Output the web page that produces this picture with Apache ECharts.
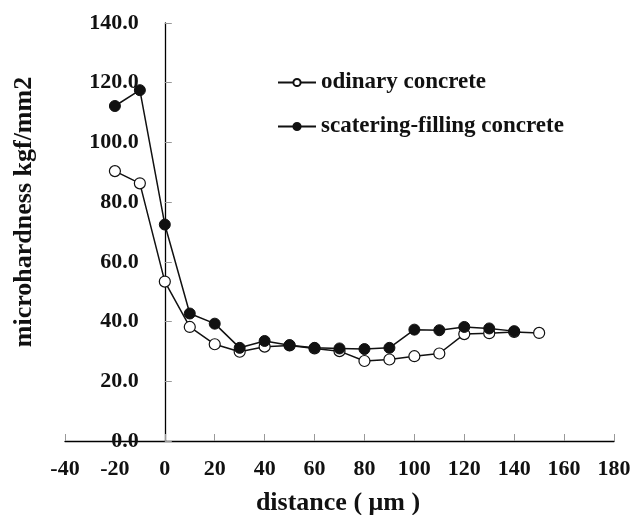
<!DOCTYPE html>
<html>
<head>
<meta charset="utf-8">
<script src="https://cdn.jsdelivr.net/npm/echarts@6/dist/echarts.min.js"></script>
<style>html,body{margin:0;padding:0;background:#fff;}#c{width:632px;height:515px;}</style>
</head>
<body>
<div id="c"></div>
<script>
var distOrdinary = [-20, -10, 0, 10, 20, 30, 40, 50, 60, 70, 80, 90, 100, 110, 120, 130, 140, 150];
var ordinary =     [90.4, 86.3, 53.4, 38.2, 32.4, 29.9, 31.6, 32.0, 31.0, 30.1, 26.8, 27.3, 28.4, 29.3, 35.8, 36.1, 36.5, 36.2];
var distScatter =  [-20, -10, 0, 10, 20, 30, 40, 50, 60, 70, 80, 90, 100, 110, 120, 130, 140];
var scatter =      [112.2, 117.5, 72.5, 42.7, 39.3, 31.2, 33.5, 32.1, 31.2, 31.0, 30.8, 31.2, 37.3, 37.1, 38.2, 37.7, 36.8];
var seriesNames = ['odinary concrete', 'scatering-filling concrete'];
var xTitle = 'distance ( \u03bcm )';
var yTitle = 'microhardness kgf/mm2';

function pairs(xs, ys) { return xs.map(function (x, i) { return [x, ys[i]]; }); }

var FONT = "'Liberation Serif','Times New Roman',serif";
var chart = echarts.init(document.getElementById('c'));
chart.setOption({
  animation: false,
  backgroundColor: '#fff',
  grid: { left: 65, right: 18, top: 23, bottom: 74, containLabel: false, outerBoundsMode: 'none' },
  legend: {
    orient: 'vertical', left: 272, top: 66, itemGap: 21, itemWidth: 38, itemHeight: 9,
    textStyle: { fontFamily: FONT, fontWeight: 'bold', fontSize: 23, color: '#111' },
    data: seriesNames
  },
  xAxis: {
    type: 'value', min: -40, max: 180, interval: 20,
    axisLine: { onZero: false, lineStyle: { color: '#000', width: 1.3 } },
    axisTick: { inside: true, length: 7, lineStyle: { color: '#999', width: 1 } },
    axisLabel: { margin: 17, fontFamily: FONT, fontWeight: 'bold', fontSize: 22, color: '#111' },
    splitLine: { show: false }
  },
  yAxis: {
    type: 'value', min: 0, max: 140, interval: 20, offset: -99.8,
    axisLine: { show: true, onZero: false, lineStyle: { color: '#000', width: 1.3 } },
    axisTick: { show: true, inside: true, length: 7, lineStyle: { color: '#999', width: 1 } },
    axisLabel: { margin: 26, fontFamily: FONT, fontWeight: 'bold', fontSize: 22, color: '#111',
      formatter: function (v) { return v.toFixed(1); } },
    splitLine: { show: false }
  },
  graphic: [
    { type: 'text', x: 338, y: 503,
      style: { text: xTitle, fontFamily: FONT, fontWeight: 'bold', fontSize: 26, fill: '#111', align: 'center', verticalAlign: 'middle' } },
    { type: 'text', rotation: Math.PI / 2, x: 24, y: 212,
      style: { text: yTitle, fontFamily: FONT, fontWeight: 'bold', fontSize: 26, fill: '#111', align: 'center', verticalAlign: 'middle' } }
  ],
  series: [
    { name: seriesNames[0], type: 'line', data: pairs(distOrdinary, ordinary),
      symbol: 'circle', symbolSize: 11, lineStyle: { color: '#111', width: 1.5 },
      itemStyle: { color: '#fff', borderColor: '#111', borderWidth: 1.2 } },
    { name: seriesNames[1], type: 'line', data: pairs(distScatter, scatter),
      symbol: 'circle', symbolSize: 11, lineStyle: { color: '#111', width: 1.5 },
      itemStyle: { color: '#111', borderColor: '#111', borderWidth: 1 } }
  ]
});
</script>
</body>
</html>
